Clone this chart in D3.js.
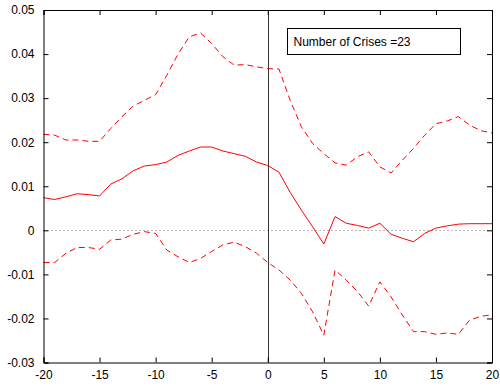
<!DOCTYPE html>
<html>
<head>
<meta charset="utf-8">
<script src="https://cdn.jsdelivr.net/npm/d3@7"></script>
<style>
  body { margin: 0; background: #fff; }
  text { font-family: "Liberation Sans", Arial, sans-serif; font-size: 12px; fill: #000; }
</style>
</head>
<body>
<div id="chart"></div>
<script>
// event window, periods relative to crisis
var periods = d3.range(-20, 21);

var upperBand = [0.0218, 0.0216, 0.0205, 0.0205, 0.0202, 0.0202, 0.0231, 0.0258, 0.0282, 0.0295,
                 0.0308, 0.0352, 0.0400, 0.0439, 0.0448, 0.0424, 0.0394, 0.0375, 0.0376, 0.0371,
                 0.0367, 0.0366, 0.0295, 0.0235, 0.0197, 0.0174, 0.0153, 0.0148, 0.0167, 0.0178,
                 0.0144, 0.0130, 0.0159, 0.0186, 0.0216, 0.0242, 0.0248, 0.0258, 0.0239, 0.0226,
                 0.0221];

var meanEffect = [0.0074, 0.0070, 0.0076, 0.0083, 0.0081, 0.0078, 0.0105, 0.0117, 0.0135, 0.0146,
                  0.0149, 0.0155, 0.0170, 0.0180, 0.0189, 0.0189, 0.0180, 0.0174, 0.0168, 0.0155,
                  0.0147, 0.0132, 0.0086, 0.0046, 0.0008, -0.0031, 0.0031, 0.0016, 0.0011, 0.0005,
                  0.0016, -0.0009, -0.0018, -0.0026, -0.0007, 0.0005, 0.0010, 0.0014, 0.0015, 0.0015,
                  0.0015];

var lowerBand = [-0.0073, -0.0073, -0.0052, -0.0039, -0.0039, -0.0043, -0.0022, -0.0020, -0.0009, -0.0003,
                 -0.0007, -0.0045, -0.0060, -0.0073, -0.0064, -0.0048, -0.0033, -0.0027, -0.0037, -0.0052,
                 -0.0073, -0.0090, -0.0113, -0.0143, -0.0185, -0.0238, -0.0090, -0.0113, -0.0139, -0.0172,
                 -0.0117, -0.0151, -0.0192, -0.0230, -0.0230, -0.0236, -0.0233, -0.0236, -0.0204, -0.0195,
                 -0.0192];

var xTicks = [-20, -15, -10, -5, 0, 5, 10, 15, 20];
var yTicks = [-0.03, -0.02, -0.01, 0, 0.01, 0.02, 0.03, 0.04, 0.05];
var legendText = "Number of Crises =23";

var W = 500, H = 387;
var mLeft = 43.5, mRight = 492, mTop = 10, mBottom = 362.5;

var svg = d3.select("#chart").append("svg")
    .attr("width", W)
    .attr("height", H);

var x = d3.scaleLinear().domain([-20, 20]).range([mLeft, mRight]);
var y = d3.scaleLinear().domain([-0.03, 0.05]).range([mBottom, mTop]);

// zero line (dotted)
svg.append("line")
  .attr("x1", x(-20)).attr("x2", x(20))
  .attr("y1", Math.round(y(0)) + 0.5).attr("y2", Math.round(y(0)) + 0.5)
  .attr("stroke", "#777")
  .attr("stroke-width", 1)
  .attr("stroke-dasharray", "1,3");

// crisis line at t = 0
svg.append("line")
  .attr("x1", Math.round(x(0)) + 0.5).attr("x2", Math.round(x(0)) + 0.5)
  .attr("y1", mTop).attr("y2", mBottom)
  .attr("stroke", "#333")
  .attr("stroke-width", 1);

function makeLine(vals) {
  return d3.line()
    .x(function(d, i) { return x(periods[i]); })
    .y(function(d) { return y(d); })(vals);
}

svg.append("path")
  .attr("d", makeLine(upperBand))
  .attr("fill", "none")
  .attr("stroke", "#ff0000")
  .attr("stroke-width", 1)
  .attr("stroke-dasharray", "6,4");

svg.append("path")
  .attr("d", makeLine(lowerBand))
  .attr("fill", "none")
  .attr("stroke", "#ff0000")
  .attr("stroke-width", 1)
  .attr("stroke-dasharray", "6,4");

svg.append("path")
  .attr("d", makeLine(meanEffect))
  .attr("fill", "none")
  .attr("stroke", "#ff0000")
  .attr("stroke-width", 1);

// axes, MATLAB style box with inward ticks
var tick = 5;
var fmtY = function(d) { return d === 0 ? "0" : d3.format(".2f")(d).replace("\u2212", "-"); };
var fmtX = function(d) { return String(d); };

svg.append("g")
  .attr("transform", "translate(0," + mBottom + ")")
  .call(d3.axisBottom(x).tickValues(xTicks).tickSize(-tick).tickPadding(8).tickFormat(fmtX));

svg.append("g")
  .attr("transform", "translate(0," + mTop + ")")
  .call(d3.axisTop(x).tickValues(xTicks).tickSize(-tick).tickFormat(""));

svg.append("g")
  .attr("transform", "translate(" + mLeft + ",0)")
  .call(d3.axisLeft(y).tickValues(yTicks).tickSize(-tick).tickPadding(9).tickFormat(fmtY));

svg.append("g")
  .attr("transform", "translate(" + mRight + ",0)")
  .call(d3.axisRight(y).tickValues(yTicks).tickSize(-tick).tickFormat(""));

svg.selectAll(".domain").attr("stroke", "#000");
svg.selectAll(".tick line").attr("stroke", "#000");
svg.selectAll(".tick text")
  .attr("font-size", 12)
  .attr("font-family", "Liberation Sans, Arial, sans-serif")
  .attr("fill", "#000");

// legend box
var lg = svg.append("g").attr("transform", "translate(287.5,28.5)");
lg.append("rect")
  .attr("width", 173).attr("height", 26)
  .attr("fill", "#fff")
  .attr("stroke", "#000");
lg.append("text")
  .attr("x", 6).attr("y", 17.5)
  .text(legendText);
</script>
</body>
</html>
